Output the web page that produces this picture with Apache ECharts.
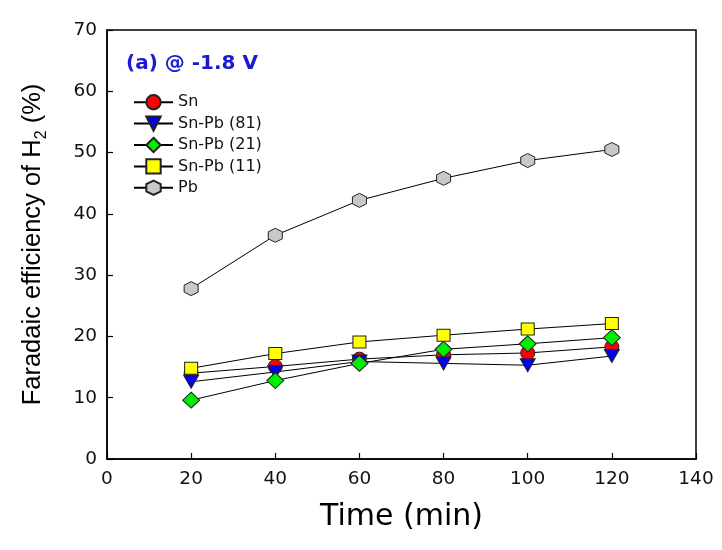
<!DOCTYPE html>
<html>
<head>
<meta charset="utf-8">
<script src="https://cdn.jsdelivr.net/npm/echarts@6/dist/echarts.min.js"></script>
<style>html,body{margin:0;padding:0;background:#fff}#c{width:722px;height:550px}</style>
</head>
<body>
<div id="c"></div>
<script>
const times = [20, 40, 60, 80, 100, 120];
const seriesNames = ['Sn', 'Sn-Pb (81)', 'Sn-Pb (21)', 'Sn-Pb (11)', 'Pb'];
const snValues = [14.0, 15.1, 16.3, 17.0, 17.3, 18.3];
const snPb81Values = [12.6, 14.2, 15.9, 15.6, 15.3, 16.8];
const snPb21Values = [9.6, 12.8, 15.6, 17.9, 18.8, 19.8];
const snPb11Values = [14.8, 17.2, 19.1, 20.2, 21.2, 22.1];
const pbValues = [27.8, 36.5, 42.2, 45.8, 48.7, 50.5];
const xTicks = [0, 20, 40, 60, 80, 100, 120, 140];
const yTicks = [0, 10, 20, 30, 40, 50, 60, 70];

const allValues = [snValues, snPb81Values, snPb21Values, snPb11Values, pbValues];
const styles = [
  {symbol: 'circle', size: 14, color: '#ff0000'},
  {symbol: 'path://M0,0 L10,0 L5,9 Z', size: [15, 13], color: '#0000ee'},
  {symbol: 'diamond', size: [17, 16], color: '#00ee00'},
  {symbol: 'rect', size: [13, 12], color: '#ffff00'},
  {symbol: 'path://M0,-1 L0.866,-0.5 L0.866,0.5 L0,1 L-0.866,0.5 L-0.866,-0.5 Z', size: [14, 14], color: '#c8c8c8'}
];

const wide = '"DejaVu Sans", Verdana, sans-serif';
const narrow = 'Arial, "Liberation Sans", sans-serif';
const chart = echarts.init(document.getElementById('c'));
chart.setOption({
  animation: false,
  backgroundColor: '#fff',
  title: {
    text: '(a) @ -1.8 V',
    left: 126, top: 54, padding: 0,
    textStyle: {color: '#1a1ad6', fontSize: 20, fontWeight: 'bold', fontFamily: wide}
  },
  legend: {
    orient: 'vertical',
    left: 133, top: 94, padding: 0,
    itemWidth: 39, itemHeight: 18, itemGap: 5,
    data: seriesNames,
    textStyle: {fontSize: 16, color: '#111', fontFamily: wide}
  },
  grid: {left: 107, right: 26, top: 30, bottom: 91, show: true, borderColor: '#000', borderWidth: 1.5, backgroundColor: 'transparent'},
  xAxis: {
    type: 'value', min: 0, max: 140, interval: 20,
    name: 'Time (min)', nameLocation: 'middle', nameGap: 43,
    nameTextStyle: {fontSize: 30, color: '#000', fontFamily: wide},
    axisLine: {show: true, lineStyle: {color: '#000', width: 1.5}},
    axisTick: {show: true, inside: true, length: 6, lineStyle: {color: '#000', width: 1.2}},
    axisLabel: {fontSize: 18.5, color: '#111', margin: 11, fontFamily: wide,
      formatter: v => xTicks.includes(v) ? String(v) : ''},
    splitLine: {show: false}
  },
  yAxis: {
    type: 'value', min: 0, max: 70, interval: 10,
    name: '{a|Faradaic efficiency of H}{s|2}{a| (%)}', nameLocation: 'middle', nameGap: 57, nameRotate: 90,
    nameTextStyle: {
      fontFamily: narrow, color: '#000',
      rich: {
        a: {fontSize: 25.5, lineHeight: 30, verticalAlign: 'top', color: '#000', fontFamily: narrow},
        s: {fontSize: 16, lineHeight: 18, verticalAlign: 'bottom', color: '#000', fontFamily: narrow}
      }
    },
    axisLine: {show: true, lineStyle: {color: '#000', width: 1.5}},
    axisTick: {show: true, inside: true, length: 6, lineStyle: {color: '#000', width: 1.2}},
    axisLabel: {fontSize: 18.5, color: '#111', margin: 10, fontFamily: wide,
      formatter: v => yTicks.includes(v) ? String(v) : ''},
    splitLine: {show: false}
  },
  series: seriesNames.map((name, i) => ({
    name: name,
    type: 'line',
    data: times.map((t, j) => [t, allValues[i][j]]),
    symbol: styles[i].symbol,
    symbolSize: styles[i].size,
    showAllSymbol: true,
    lineStyle: {color: '#000', width: 1},
    itemStyle: {color: styles[i].color, borderColor: '#222', borderWidth: 1},
    emphasis: {disabled: true},
    z: 2 + i
  }))
});
</script>
</body>
</html>
